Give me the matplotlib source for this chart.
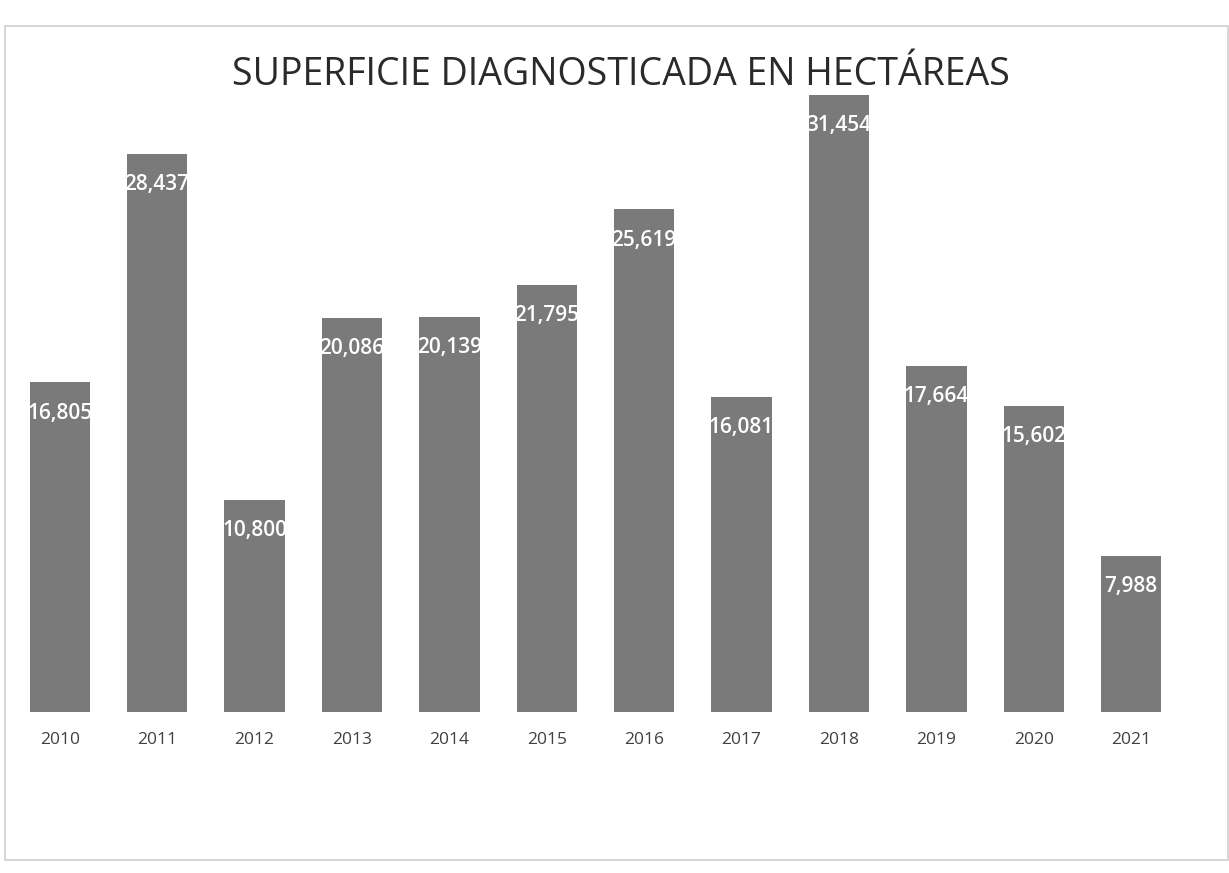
import matplotlib.pyplot as plt
from matplotlib.patches import Rectangle

# data
years = ['2010', '2011', '2012', '2013', '2014', '2015',
         '2016', '2017', '2018', '2019', '2020', '2021']
hectares = [16805, 28437, 10800, 20086, 20139, 21795,
            25619, 16081, 31454, 17664, 15602, 7988]

plt.rcParams['font.family'] = ['Open Sans', 'DejaVu Sans']

fig = plt.figure(figsize=(12.29, 8.73), dpi=100)
fig.patch.set_facecolor('white')

# faint frame of the original chart area
fig.patches.append(Rectangle((0.004, 0.015), 0.995, 0.955, transform=fig.transFigure,
                             fill=False, edgecolor='#d0d0d0', linewidth=1.2))

ax = fig.add_axes([0.005, 0.184, 0.955, 0.742])
x = list(range(len(years)))
bars = ax.bar(x, hectares, width=0.62, color='#7a7a7a', zorder=2)

for xi, v in zip(x, hectares):
    ax.annotate(f'{v:,}', (xi, v), xytext=(0, -22), textcoords='offset points',
                ha='center', va='center', color='white', fontsize=15,
                fontweight='semibold', zorder=3)

ax.set_xlim(-0.55, 11.5)
ax.set_ylim(0, 33000)
ax.set_xticks(x)
ax.set_xticklabels(years, fontsize=12.5, color='#404040')
ax.tick_params(axis='x', length=0, pad=14)
ax.set_yticks([])
for s in ax.spines.values():
    s.set_visible(False)
ax.set_facecolor('none')

fig.text(0.505, 0.914, 'SUPERFICIE DIAGNOSTICADA EN HECTÁREAS', ha='center', va='center',
         fontsize=27, color='#2a2a2a')

fig.savefig('out.png', dpi=100)
